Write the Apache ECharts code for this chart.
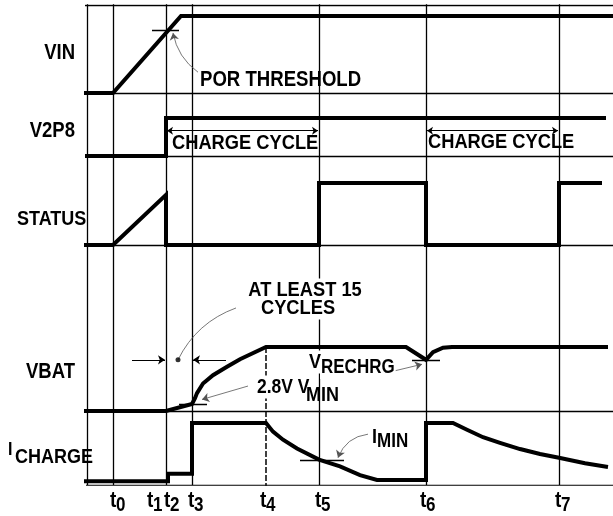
<!DOCTYPE html>
<html>
<head>
<meta charset="utf-8">
<title>Charge timing diagram</title>
<script src="https://cdn.jsdelivr.net/npm/echarts@6/dist/echarts.min.js"></script>
<style>
html, body { margin: 0; padding: 0; background: #fff; }
#chart { width: 613px; height: 516px; }
</style>
</head>
<body>
<div id="chart"></div>
<script>
// time axis: units counted from the left frame; levels: 0 = low rail, 1 = high rail of the lane
var timeMarks = [27, 80, 80, 106, 180, 233, 340, 473];
var timeDigits = ['0', '1', '2', '3', '4', '5', '6', '7'];
var timeLabelX = [110, 147, 164, 188, 260, 315, 420, 555];

var vinTrace = [[-2, 0], [27, 0], [95, 1], [527, 1]];
var v2p8Trace = [[-1, 0], [80, 0], [80, 1], [520, 1]];
var statusTrace = [[-2, 0], [27, 0], [80, 0.81], [80, 0], [233, 0], [233, 1], [340, 1], [340, 0],
    [473, 0], [473, 1], [516, 1]];
var vbatTrace = [[-2, 0], [80, 0], [106, 0.11], [109, 0.2], [111, 0.28], [117, 0.43], [127, 0.56],
    [141, 0.69], [154, 0.81], [180, 1], [320, 1], [340, 0.80], [347, 0.92], [357, 0.99], [366, 1], [522, 1]];
var ichargeTrace = [[-2, 0.06], [82, 0.06], [82, 0.18], [106, 0.18], [106, 1], [180, 1], [187, 0.86],
    [197, 0.73], [211, 0.59], [233, 0.41], [254, 0.30], [274, 0.16], [291, 0.08], [340, 0.08], [340, 1],
    [367, 1], [381, 0.89], [397, 0.77], [414, 0.68], [434, 0.58], [454, 0.50], [473, 0.44], [499, 0.35],
    [522, 0.29]];

// threshold ticks [lane, level, from, to]
var thresholdTicks = [['VIN', 0.814, 66, 93], ['VBAT', 0.11, 93, 121], ['VBAT', 0.80, 326, 354],
    ['ICHARGE', 0.40, 214, 258]];

// lane placement on the y axis (y units from the bottom rail)
var lanes = {
    VIN: {base: 392, amp: 77},
    V2P8: {base: 329, amp: 38},
    STATUS: {base: 240, amp: 62},
    VBAT: {base: 74, amp: 64},
    ICHARGE: {base: 0, amp: 62}
};

function lanePoint (lane, t, level) {
    return [t, lanes[lane].base + level * lanes[lane].amp];
}

function toLane (lane, pts) {
    return pts.map(function (p) { return lanePoint(lane, p[0], p[1]); });
}

function traceSeries (name, pts) {
    return {
        name: name,
        type: 'line',
        data: toLane(name, pts),
        showSymbol: false,
        clip: false,
        silent: true,
        z: 5,
        lineStyle: {color: '#000', width: 4, join: 'miter', cap: 'butt'}
    };
}

function seg (a, b) {
    return {coords: [a, b]};
}

var chart = echarts.init(document.getElementById('chart'));

// thin frame: top rail, lane baselines, time verticals
var frameLines = [seg([-3, 480], [527, 480])];
Object.keys(lanes).forEach(function (k) {
    frameLines.push(seg([0, lanes[k].base], [527, lanes[k].base]));
});
[1, 27, 80, 106, 233, 340, 473].forEach(function (t) {
    frameLines.push(seg([t, 482], [t, 0]));
});

var tickLines = thresholdTicks.map(function (d) {
    return seg(lanePoint(d[0], d[2], d[1]), lanePoint(d[0], d[3], d[1]));
});

var cycleArrows = [
    seg(lanePoint('V2P8', 81, 0.666), lanePoint('V2P8', 232, 0.666)),
    seg(lanePoint('V2P8', 341, 0.666), lanePoint('V2P8', 472, 0.666))
];
var pinchArrows = [
    seg(lanePoint('VBAT', 46, 0.80), lanePoint('VBAT', 79, 0.80)),
    seg(lanePoint('VBAT', 140, 0.80), lanePoint('VBAT', 107, 0.80))
];
var leaderArrows = [
    {coords: [lanePoint('VIN', 112, 0.27), lanePoint('VIN', 87, 0.78)], lineStyle: {curveness: 0.2}},
    {coords: [lanePoint('VBAT', 162, 0.39), lanePoint('VBAT', 116, 0.18)]},
    {coords: [lanePoint('VBAT', 304, 0.61), lanePoint('VBAT', 336, 0.73)]},
    {coords: [lanePoint('ICHARGE', 282, 0.82), lanePoint('ICHARGE', 252, 0.44)], lineStyle: {curveness: -0.3}}
];
var dotLeader = [
    {coords: [lanePoint('VBAT', 92, 0.80), lanePoint('VBAT', 150, 1.61)], lineStyle: {curveness: 0.2}}
];

var FONT = '"Liberation Sans", Arial, sans-serif';
// [text, x, y, size, align, white box]
var textItems = [
    ['VIN', 75, 53, 18.5, 'right', false],
    ['V2P8', 75, 131, 18.5, 'right', false],
    ['STATUS', 17, 219, 18, 'left', false],
    ['VBAT', 75, 372, 18.5, 'right', false],
    ['I', 8, 450, 16, 'left', false],
    ['CHARGE', 15, 457, 18, 'left', false],
    ['POR THRESHOLD', 200, 80, 18.6, 'left', false],
    ['CHARGE CYCLE', 172, 143, 18.3, 'left', false],
    ['CHARGE CYCLE', 428, 142, 18.3, 'left', false],
    ['AT LEAST 15', 305, 290, 18.3, 'center', true],
    ['CYCLES', 298, 308, 18.3, 'center', true],
    ['2.8V V', 256, 387, 17.5, 'left', true],
    ['MIN', 306, 395, 18, 'left', false],
    ['V', 308, 362, 18, 'left', true],
    ['RECHRG', 320, 368, 17, 'left', true],
    ['I', 372, 437, 18, 'left', false],
    ['MIN', 377, 442, 17, 'left', false]
];

// the source lettering is a little taller than the font's natural proportions
var STRETCH = 1.15;

var graphics = textItems.map(function (d) {
    return {
        type: 'text',
        z: 100,
        x: d[1],
        y: d[2],
        scaleY: STRETCH,
        style: {
            text: d[0], x: 0, y: 0,
            font: 'bold ' + d[3] + 'px ' + FONT,
            fill: '#000',
            textAlign: d[4],
            textVerticalAlign: 'middle',
            backgroundColor: d[5] ? '#fff' : null,
            padding: d[5] ? [1, 1] : 0
        }
    };
});
timeLabelX.forEach(function (x, i) {
    graphics.push({type: 'text', z: 100, x: x, y: 501, scaleY: STRETCH,
        style: {text: 't', x: 0, y: 0, font: 'bold 19px ' + FONT, fill: '#000', textVerticalAlign: 'middle'}});
    graphics.push({type: 'text', z: 100, x: x + 6, y: 506, scaleY: STRETCH,
        style: {text: timeDigits[i], x: 0, y: 0, font: 'bold 17px ' + FONT, fill: '#000', textVerticalAlign: 'middle'}});
});

var option = {
    animation: false,
    backgroundColor: '#fff',
    grid: {left: 86, right: 0, top: 5, bottom: 31},
    xAxis: {type: 'value', min: 0, max: 527, show: false},
    yAxis: {type: 'value', min: 0, max: 480, show: false},
    graphic: graphics,
    series: [
        {
            type: 'lines', coordinateSystem: 'cartesian2d', silent: true, z: 1,
            lineStyle: {color: '#000', width: 1.3, opacity: 1},
            data: frameLines
        },
        {
            type: 'lines', coordinateSystem: 'cartesian2d', silent: true, z: 1,
            lineStyle: {color: '#000', width: 1.5, type: [6, 2], opacity: 1},
            data: [seg(lanePoint('VBAT', timeMarks[4], 1), [timeMarks[4], -2])]
        },
        {
            type: 'lines', coordinateSystem: 'cartesian2d', silent: true, z: 3,
            lineStyle: {color: '#000', width: 1.3, opacity: 1},
            data: tickLines
        },
        {
            type: 'lines', coordinateSystem: 'cartesian2d', silent: true, z: 3,
            symbol: ['arrow', 'arrow'], symbolSize: 6,
            lineStyle: {color: '#000', width: 1, opacity: 1},
            data: cycleArrows
        },
        {
            type: 'lines', coordinateSystem: 'cartesian2d', silent: true, z: 3,
            symbol: ['none', 'arrow'], symbolSize: 7,
            lineStyle: {color: '#000', width: 1, opacity: 1},
            data: pinchArrows
        },
        {
            type: 'lines', coordinateSystem: 'cartesian2d', silent: true, z: 3,
            symbol: ['none', 'arrow'], symbolSize: 7,
            lineStyle: {color: '#555', width: 0.8, opacity: 1},
            data: leaderArrows
        },
        {
            type: 'lines', coordinateSystem: 'cartesian2d', silent: true, z: 3,
            lineStyle: {color: '#555', width: 0.8, opacity: 1},
            data: dotLeader
        },
        {
            type: 'scatter', silent: true, z: 4, symbolSize: 5,
            itemStyle: {color: '#000'},
            data: [lanePoint('VBAT', 92, 0.80)]
        },
        traceSeries('VIN', vinTrace),
        traceSeries('V2P8', v2p8Trace),
        traceSeries('STATUS', statusTrace),
        traceSeries('VBAT', vbatTrace),
        traceSeries('ICHARGE', ichargeTrace)
    ]
};

chart.setOption(option);
</script>
</body>
</html>
